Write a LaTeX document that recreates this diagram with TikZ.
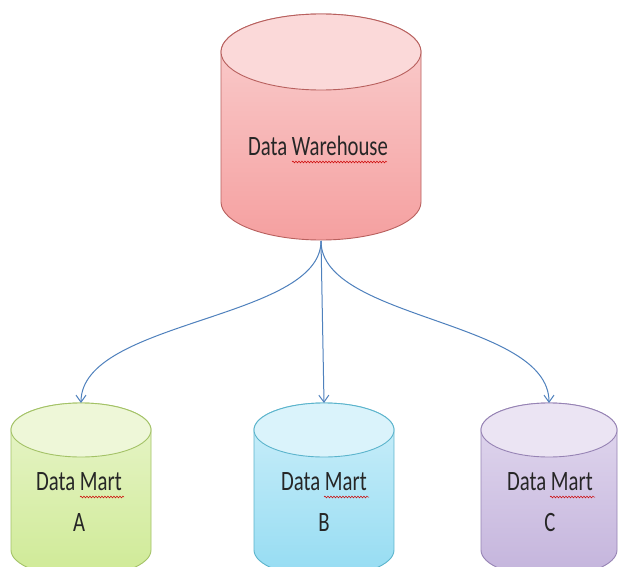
\documentclass[tikz,border=0pt]{standalone}
\usepackage{fontspec}
\setmainfont{Carlito}
\usetikzlibrary{arrows.meta,decorations.pathmorphing}
\definecolor{arrowblue}{HTML}{4F81BD}
\definecolor{txt}{HTML}{262626}
\definecolor{redtop}{HTML}{FBD9D9}
\definecolor{redA}{HTML}{FAD0D0}
\definecolor{redB}{HTML}{F5A0A0}
\definecolor{redline}{HTML}{B8605E}
\definecolor{grntop}{HTML}{EEF7D8}
\definecolor{grnA}{HTML}{E8F5CB}
\definecolor{grnB}{HTML}{CFEA96}
\definecolor{grnline}{HTML}{A3C266}
\definecolor{blutop}{HTML}{DAF3FB}
\definecolor{bluA}{HTML}{CDEFFA}
\definecolor{bluB}{HTML}{95DCF2}
\definecolor{bluline}{HTML}{5BB4CC}
\definecolor{purtop}{HTML}{EBE4F3}
\definecolor{purA}{HTML}{E2D9EF}
\definecolor{purB}{HTML}{C4B4DC}
\definecolor{purline}{HTML}{9683B4}
\newcommand{\dbcyl}[9]{%
  \path[shade, top color=#7, bottom color=#8, draw=#9, line width=0.9pt]
    (#1-#4,#2) -- (#1-#4,#3)
    arc[start angle=180,end angle=360,x radius=#4,y radius=#5]
    -- (#1+#4,#2)
    arc[start angle=0,end angle=180,x radius=#4,y radius=#5] -- cycle;
  \path[fill=#6, draw=#9, line width=0.9pt] (#1,#2) ellipse[x radius=#4, y radius=#5];
}
\tikzset{
  lbl/.style={font=\fontsize{28}{34}\selectfont, inner sep=0pt, text=txt, anchor=base},
  flow/.style={draw=arrowblue, line width=1pt, -{Straight Barb[length=7pt,width=10pt]}},
  squig/.style={draw=red!80!black, line width=0.5pt, decorate,
    decoration={snake, amplitude=0.9pt, segment length=3pt}}
}
\begin{document}
\begin{tikzpicture}[x=1pt,y=1pt]
\useasboundingbox (0,0) rectangle (620,566);
\fill[white] (0,0) rectangle (620,566);
\clip (0,0) rectangle (620,566);

% cylinders
\dbcyl{321}{514}{364}{100}{38}{redtop}{redA}{redB}{redline}
\dbcyl{81}{136}{16}{70}{27}{grntop}{grnA}{grnB}{grnline}
\dbcyl{324}{136}{16}{70}{27}{blutop}{bluA}{bluB}{bluline}
\dbcyl{549}{136}{16}{68}{27}{purtop}{purA}{purB}{purline}

% connector ends
\coordinate (wbot) at (321,325);
\coordinate (atop) at (81,163);
\coordinate (btop) at (324,163);
\coordinate (ctop) at (549,163);

% labels
\node[lbl] (tw) at (318,410) {\scalebox{0.74}[1]{Data Warehouse}};
\node[lbl] (ta1) at (79,76) {\scalebox{0.74}[1]{Data Mart}};
\node[lbl] (ta2) at (79,35) {\scalebox{0.74}[1]{A}};
\node[lbl] (tb1) at (324,76) {\scalebox{0.74}[1]{Data Mart}};
\node[lbl] (tb2) at (324,35) {\scalebox{0.74}[1]{B}};
\node[lbl] (tc1) at (550,76) {\scalebox{0.74}[1]{Data Mart}};
\node[lbl] (tc2) at (550,35) {\scalebox{0.74}[1]{C}};

% spell-check squiggles
\draw[squig] (292,404) -- (387,404);
\draw[squig] (80,69) -- (124,69);
\draw[squig] (324,69) -- (369,69);
\draw[squig] (550,69) -- (595,69);

% connectors
\draw[flow] (wbot) .. controls (321,246) and (81,246) .. (atop);
\draw[flow] (wbot) -- (btop);
\draw[flow] (wbot) .. controls (321,246) and (549,246) .. (ctop);
\end{tikzpicture}
\end{document}
